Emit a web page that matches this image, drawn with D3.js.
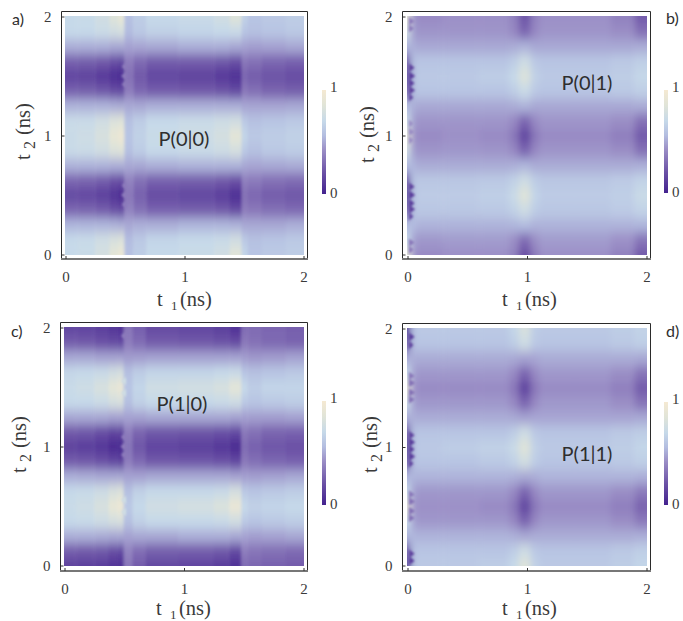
<!DOCTYPE html>
<html><head><meta charset="utf-8">
<script src="https://cdn.jsdelivr.net/npm/d3@7"></script>
<style>
html,body{margin:0;padding:0;background:#fff}
svg{display:block}
.serif{font-family:"Liberation Serif",serif;fill:#3a3a3a}
.sans{font-family:"Lato",sans-serif;fill:#2e2e2e}
</style></head><body>
<svg id="c" width="683" height="621"></svg>
<script>
// t2 sample rows (ns), bottom to top
const t2Rows=[0,.125,.25,.375,.5,.625,.75,.875,1,1.125,1.25,1.375,1.5,1.625,1.75,1.875,2];
// t1 cell edges (ns)
const t1EdgesAC=[-.1,.1,.25,.37,.44,.495,.57,.68,.95,1.25,1.38,1.48,1.53,1.65,1.85,2.1];
const t1EdgesBD=[-.1,.025,.07,.3,.6,.85,.93,1.03,1.1,1.4,1.7,1.9,2.1];
const tickValues=[0,1,2];
const colorStops=[0,.2,.42,.56,.7,.85,1];
const colorValues=["#43228f","#6a50a5","#9a8dc5","#b3bde0","#c6d9e9","#e0e4d8","#f5e9d2"];

const valuesA=[
[.70,.72,.78,.88,.93,.58,.64,.70,.72,.76,.86,.68,.60,.62,.64],
[.70,.71,.75,.80,.82,.56,.62,.68,.70,.72,.76,.62,.58,.60,.62],
[.54,.54,.54,.53,.52,.50,.52,.52,.54,.54,.53,.50,.50,.50,.52],
[.28,.27,.24,.20,.18,.38,.31,.26,.25,.23,.18,.36,.34,.31,.29],
[.17,.16,.13,.08,.04,.34,.26,.18,.16,.12,.05,.32,.28,.24,.22],
[.28,.27,.24,.20,.19,.38,.31,.26,.25,.23,.20,.37,.35,.32,.30],
[.53,.53,.53,.52,.52,.50,.50,.52,.53,.53,.53,.50,.49,.50,.51],
[.72,.73,.76,.82,.84,.58,.64,.70,.72,.74,.78,.62,.58,.62,.64],
[.72,.74,.80,.90,.94,.60,.66,.72,.74,.78,.88,.68,.62,.64,.66],
[.72,.72,.76,.82,.84,.58,.64,.70,.72,.74,.76,.62,.58,.60,.62],
[.53,.53,.53,.52,.51,.50,.50,.52,.52,.52,.52,.49,.49,.49,.50],
[.26,.25,.22,.18,.17,.36,.28,.24,.23,.21,.17,.34,.31,.27,.25],
[.15,.14,.10,.05,.03,.32,.23,.16,.14,.10,.06,.28,.24,.21,.18],
[.26,.25,.23,.19,.17,.36,.29,.24,.24,.22,.19,.34,.32,.28,.26],
[.52,.52,.52,.50,.50,.48,.49,.50,.52,.52,.50,.48,.47,.48,.50],
[.70,.70,.73,.76,.78,.56,.62,.66,.68,.70,.72,.60,.58,.60,.62],
[.70,.71,.76,.84,.90,.58,.64,.70,.72,.76,.84,.66,.60,.62,.64]];
const valuesC=[
[.14,.13,.12,.08,.06,.34,.24,.17,.15,.12,.06,.30,.28,.26,.24],
[.24,.23,.22,.18,.16,.38,.30,.25,.24,.22,.16,.36,.33,.31,.29],
[.52,.52,.51,.50,.50,.48,.50,.50,.52,.52,.50,.48,.47,.48,.50],
[.70,.71,.74,.78,.80,.58,.66,.70,.70,.72,.76,.62,.60,.62,.64],
[.72,.74,.80,.90,.94,.62,.70,.76,.78,.82,.92,.70,.66,.68,.70],
[.70,.71,.74,.80,.82,.58,.66,.70,.70,.72,.78,.62,.60,.62,.64],
[.52,.51,.50,.50,.50,.48,.48,.50,.50,.50,.48,.47,.47,.48,.50],
[.24,.23,.20,.16,.14,.36,.29,.23,.22,.20,.16,.34,.31,.28,.26],
[.14,.12,.09,.04,.03,.33,.22,.15,.13,.09,.04,.30,.26,.22,.20],
[.23,.22,.18,.14,.14,.36,.27,.22,.21,.19,.16,.34,.31,.27,.26],
[.50,.50,.50,.48,.48,.48,.48,.50,.50,.50,.48,.47,.47,.47,.48],
[.70,.70,.73,.78,.80,.58,.66,.70,.70,.72,.74,.62,.60,.62,.64],
[.72,.74,.80,.88,.92,.60,.68,.75,.77,.80,.88,.70,.64,.68,.68],
[.69,.70,.72,.76,.78,.58,.64,.68,.68,.70,.72,.60,.58,.60,.62],
[.50,.50,.48,.48,.48,.46,.47,.48,.48,.48,.48,.46,.45,.46,.48],
[.24,.23,.20,.18,.16,.36,.30,.24,.23,.21,.18,.34,.32,.29,.27],
[.16,.15,.13,.09,.07,.34,.26,.18,.16,.13,.07,.30,.30,.28,.26]];
const valuesB=[
[.90,.45,.41,.43,.43,.38,.20,.36,.43,.43,.38,.24],
[.70,.48,.45,.46,.46,.42,.30,.42,.46,.46,.43,.33],
[.56,.56,.53,.53,.53,.54,.56,.53,.53,.53,.53,.54],
[.20,.60,.61,.61,.62,.66,.74,.64,.61,.61,.63,.67],
[.10,.58,.63,.63,.65,.72,.84,.68,.63,.63,.65,.72],
[.20,.60,.61,.61,.62,.66,.74,.64,.61,.61,.63,.67],
[.56,.54,.51,.51,.51,.52,.54,.51,.51,.51,.51,.52],
[.75,.47,.44,.45,.44,.40,.28,.40,.44,.44,.42,.32],
[.90,.44,.41,.43,.41,.34,.17,.34,.41,.41,.37,.24],
[.72,.47,.44,.44,.44,.40,.28,.40,.44,.44,.42,.32],
[.56,.52,.50,.50,.50,.51,.53,.50,.50,.50,.50,.51],
[.20,.58,.60,.60,.60,.64,.72,.62,.60,.60,.62,.65],
[.10,.56,.62,.62,.64,.70,.82,.66,.62,.62,.64,.69],
[.22,.58,.60,.60,.60,.64,.74,.62,.60,.60,.62,.65],
[.54,.52,.50,.50,.50,.51,.53,.50,.50,.50,.50,.51],
[.75,.47,.44,.44,.44,.40,.28,.40,.44,.44,.42,.32],
[.90,.45,.41,.43,.43,.38,.22,.38,.43,.43,.38,.24]];
const valuesD=[
[.10,.58,.62,.62,.64,.70,.84,.66,.62,.62,.64,.68],
[.18,.58,.60,.60,.60,.64,.74,.62,.60,.60,.62,.65],
[.54,.54,.53,.53,.53,.52,.50,.51,.51,.51,.51,.52],
[.70,.48,.45,.45,.45,.40,.28,.40,.45,.45,.42,.35],
[.92,.45,.43,.43,.41,.34,.17,.34,.41,.41,.37,.27],
[.70,.48,.45,.45,.45,.40,.28,.40,.45,.45,.42,.35],
[.54,.54,.53,.53,.53,.52,.50,.51,.53,.53,.53,.52],
[.18,.58,.60,.60,.62,.66,.76,.64,.60,.60,.62,.65],
[.08,.58,.62,.64,.66,.72,.84,.66,.62,.62,.64,.68],
[.18,.58,.60,.60,.60,.64,.74,.62,.60,.60,.62,.64],
[.52,.52,.51,.51,.51,.50,.48,.49,.49,.49,.49,.50],
[.72,.48,.45,.45,.45,.40,.28,.40,.45,.45,.42,.33],
[.92,.44,.41,.41,.41,.34,.15,.34,.41,.41,.37,.24],
[.70,.48,.45,.45,.45,.40,.28,.40,.45,.45,.42,.33],
[.52,.52,.51,.51,.51,.50,.48,.49,.51,.51,.51,.50],
[.18,.58,.60,.60,.60,.64,.74,.62,.60,.60,.62,.65],
[.08,.58,.62,.62,.62,.68,.80,.64,.62,.62,.64,.67]];
// Jagged wedges along a boundary: [t2, tip t1, value]
const spikesA=[[.42,.47,.36],[.5,.465,.36],[.58,.47,.36],[1.43,.47,.36],[1.5,.465,.36],[1.58,.47,.36]];
const spikesC=[[.93,.47,.36],[1,.465,.36],[1.08,.47,.36],[1.93,.47,.36],[.45,.47,.75],[.55,.47,.75],[1.45,.47,.75],[1.55,.47,.75]];
const spikesB=[[.04,.05,.34],[.1,.06,.34],[.32,.05,.16],[.38,.065,.14],[.43,.06,.12],[.5,.065,.12],[.57,.06,.14],
[.96,.05,.42],[1.03,.06,.42],[1.1,.05,.42],[1.32,.05,.16],[1.38,.065,.14],[1.44,.06,.12],[1.5,.065,.12],[1.57,.06,.14],[1.9,.055,.36],[1.96,.06,.36]];
const spikesD=[[.04,.06,.12],[.1,.06,.14],[.4,.06,.32],[.46,.065,.32],[.54,.065,.32],[.6,.06,.34],
[.86,.05,.14],[.92,.065,.12],[.98,.06,.12],[1.04,.065,.12],[1.1,.06,.14],[1.4,.06,.32],[1.46,.065,.32],[1.54,.065,.32],[1.6,.06,.34],[1.86,.05,.14],[1.93,.06,.12]];

const panels=[
 {id:"a",tag:"a)",name:"P(0|0)",values:valuesA,edges:t1EdgesAC,spikes:spikesA,base:.515,blur:"1.8 5.5",frame:[61,11,308,259],img:[65,16,304,255],bar:[322,90,326,194],
  tagPos:[12,25],namePos:[184,140],xt:[157,306],yt:[30,160]},
 {id:"b",tag:"b)",name:"P(0|1)",values:valuesB,edges:t1EdgesBD,spikes:spikesB,base:.012,blur:"3 5.5",frame:[402,11,651,259],img:[407,16,647,255],bar:[664,90,668,193],
  tagPos:[666,24],namePos:[587,84],xt:[502,306],yt:[374,163]},
 {id:"c",tag:"c)",name:"P(1|0)",values:valuesC,edges:t1EdgesAC,spikes:spikesC,base:.515,blur:"1.8 5.5",frame:[60,322,308,571],img:[64,327,304,566],bar:[322,401,326,505],
  tagPos:[11,337],namePos:[182,405],xt:[156,615],yt:[26,473]},
 {id:"d",tag:"d)",name:"P(1|1)",values:valuesD,edges:t1EdgesBD,spikes:spikesD,base:.012,blur:"3 5.5",frame:[402,323,651,571],img:[407,328,647,566],bar:[664,402,668,505],
  tagPos:[666,337],namePos:[587,455],xt:[502,615],yt:[377,473]}
];

const svg=d3.select("#c");
const defs=svg.append("defs");
const blur2=defs.append("filter").attr("id","soft2").attr("x","-50%").attr("y","-50%").attr("width","200%").attr("height","200%");
blur2.append("feGaussianBlur").attr("stdDeviation","0.9");
const grad=defs.append("linearGradient").attr("id","bar").attr("x1",0).attr("x2",0).attr("y1",1).attr("y2",0);
colorStops.forEach((s,i)=>grad.append("stop").attr("offset",s).attr("stop-color",colorValues[i]));
const color=d3.scaleLinear().domain(colorStops).range(colorValues).clamp(true);

panels.forEach(p=>{
  const [il,it,ir,ib]=p.img,[fl,ft,fr,fb]=p.frame;
  const x=d3.scaleLinear().domain([0,2]).range([il+.5,ir-.5]);
  const y=d3.scaleLinear().domain([0,2]).range([ib-.5,it+.5]);
  const g=svg.append("g");
  defs.append("filter").attr("id","soft"+p.id).attr("x","-5%").attr("y","-5%").attr("width","110%").attr("height","110%")
    .append("feGaussianBlur").attr("stdDeviation",p.blur);
  defs.append("clipPath").attr("id","clip"+p.id).append("rect")
    .attr("x",il).attr("y",it).attr("width",ir-il).attr("height",ib-it);
  const clip=g.append("g").attr("clip-path",`url(#clip${p.id})`);
  const heat=clip.append("g").attr("filter",`url(#soft${p.id})`);
  p.values.forEach((row,r)=>{
    const lo=r===0?-.2:(t2Rows[r]+t2Rows[r-1])/2;
    const hi=r===t2Rows.length-1?2.2:(t2Rows[r]+t2Rows[r+1])/2;
    heat.selectAll(null).data(row).join("rect")
      .attr("x",(d,i)=>x(p.edges[i])).attr("width",(d,i)=>x(p.edges[i+1])-x(p.edges[i])+.4)
      .attr("y",y(hi)).attr("height",y(lo)-y(hi)+.4)
      .attr("fill",d=>color(d));
  });
  clip.append("g").attr("filter","url(#soft2)").selectAll("path").data(p.spikes).join("path")
    .attr("d",d=>`M${x(p.base)},${y(d[0]-.035)}L${x(d[1])},${y(d[0])}L${x(p.base)},${y(d[0]+.035)}Z`)
    .attr("fill",d=>color(d[2]));

  // frame
  g.append("path").attr("d",`M${fl+.5},${fb}V${ft+.5}H${fr-.5}V${fb}`).attr("fill","none").attr("stroke","#2b2b2b").attr("stroke-width",1);
  g.append("line").attr("x1",fl).attr("x2",fr).attr("y1",fb).attr("y2",fb).attr("stroke","#777").attr("stroke-width",2);

  const xa=d3.axisBottom(x).tickValues(tickValues).tickFormat(d3.format("d")).tickSize(-3).tickPadding(12);
  const ya=d3.axisLeft(y).tickValues(tickValues).tickFormat(d3.format("d")).tickSize(-3).tickPadding(10);
  const ax=g.append("g").attr("transform",`translate(0,${fb})`).call(xa);
  const ay=g.append("g").attr("transform",`translate(${fl+.5},0)`).call(ya);
  [ax,ay].forEach(a=>{
    a.select(".domain").remove();
    a.selectAll("line").attr("stroke","#333");
    a.selectAll("text").attr("class","serif").attr("font-size",15);
  });

  // axis titles
  const xt=g.append("text").attr("class","serif").attr("y",p.xt[1]).attr("font-size",20.5);
  xt.append("tspan").attr("x",p.xt[0]).text("t");
  xt.append("tspan").attr("x",p.xt[0]+14).attr("dy",3.5).attr("font-size",13).text("1");
  xt.append("tspan").attr("x",p.xt[0]+23).attr("dy",-3.5).text("(ns)");
  const yt=g.append("text").attr("class","serif").attr("font-size",20.5)
    .attr("transform",`translate(${p.yt[0]},${p.yt[1]}) rotate(-90)`);
  yt.append("tspan").attr("x",0).text("t");
  yt.append("tspan").attr("x",11).attr("dy",5).attr("font-size",16).text("2");
  yt.append("tspan").attr("x",25).attr("dy",-5).text("(ns)");

  g.append("text").attr("class","sans").attr("x",p.namePos[0]).attr("y",p.namePos[1]+6).attr("text-anchor","middle").attr("font-size",20).text(p.name);
  g.append("text").attr("class","sans").attr("x",p.tagPos[0]).attr("y",p.tagPos[1]).attr("font-size",16).text(p.tag);

  // colour bar
  const [bl,bt,br,bb]=p.bar;
  g.append("rect").attr("x",bl).attr("y",bt).attr("width",br-bl).attr("height",bb-bt).attr("fill","url(#bar)");
  const barScale=d3.scaleLinear().domain([0,1]).range([bb,bt]);
  g.selectAll(null).data([0,1]).join("text").attr("class","serif").attr("font-size",15)
    .attr("x",br+4).attr("y",d=>barScale(d)+(d?2:4)).text(d=>d);
});
</script></body></html>
